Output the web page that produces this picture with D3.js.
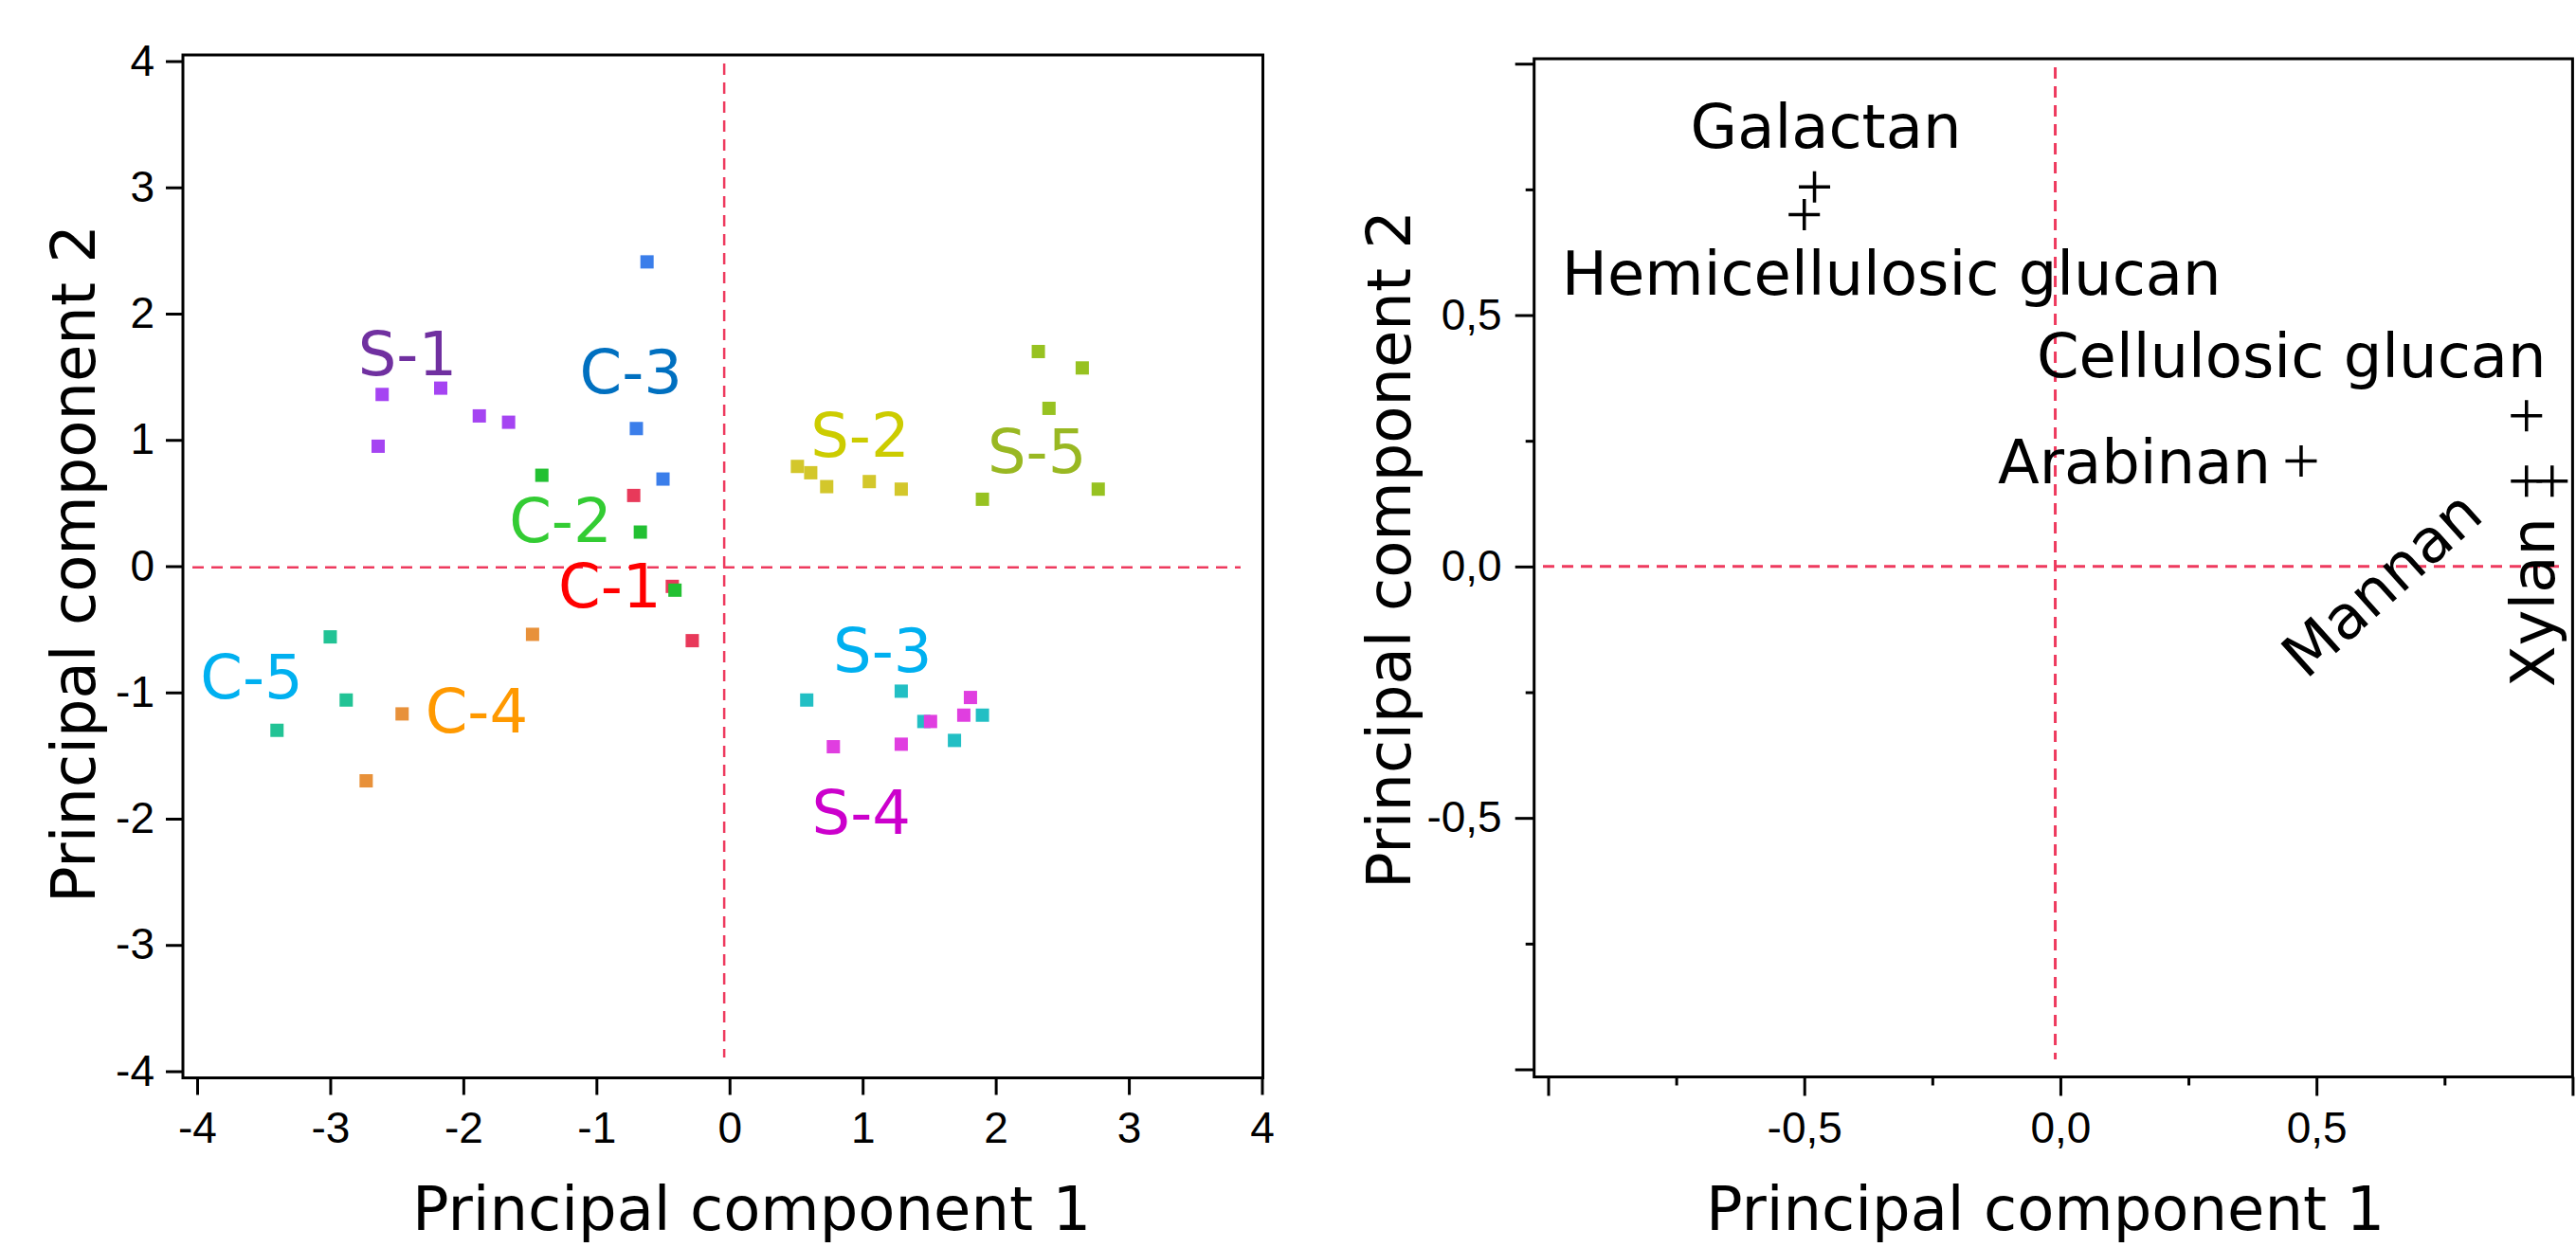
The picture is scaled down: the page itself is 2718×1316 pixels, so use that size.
<!DOCTYPE html>
<html lang="en">
<head>
<meta charset="UTF-8">
<title>PCA scores and loadings</title>
<script src="https://d3js.org/d3.v7.min.js"></script>
<style>
  body { margin: 0; background: #fff; }
  svg { display: block; }
  .tick text { font-family: "Liberation Sans", Arial, sans-serif; font-size: 46px; fill: #000; }
  .tick line { stroke: #000; stroke-width: 3; }
  .title, .lab { font-family: "DejaVu Sans", sans-serif; font-size: 64px; }
</style>
</head>
<body>
<svg width="2718" height="1316"></svg>
<script>
// ---- score plot data, one entry per sample ----
const scoreGroup = [
  "C-1","C-1","C-1",
  "C-2","C-2","C-2",
  "C-3","C-3","C-3",
  "C-4","C-4","C-4",
  "C-5","C-5","C-5",
  "S-1","S-1","S-1","S-1","S-1",
  "S-2","S-2","S-2","S-2","S-2",
  "S-3","S-3","S-3","S-3","S-3",
  "S-4","S-4","S-4","S-4","S-4",
  "S-5","S-5","S-5","S-5","S-5"
];
const scoreX = [
  -0.72, -0.43, -0.28,
  -1.41, -0.67, -0.41,
  -0.62, -0.70, -0.50,
  -1.48, -2.46, -2.73,
  -3.00, -2.88, -3.40,
  -2.61, -2.17, -1.88, -1.66, -2.64,
   0.51,  0.61,  0.73,  1.05,  1.29,
   0.58,  1.29,  1.46,  1.90,  1.69,
   0.78,  1.29,  1.51,  1.76,  1.81,
   2.32,  2.65,  2.40,  1.90,  2.77
];
const scoreY = [
   0.56, -0.16, -0.59,
   0.72,  0.27, -0.19,
   2.41,  1.09,  0.69,
  -0.54, -1.17, -1.70,
  -0.56, -1.06, -1.30,
   1.36,  1.41,  1.19,  1.14,  0.95,
   0.79,  0.74,  0.63,  0.67,  0.61,
  -1.06, -0.99, -1.23, -1.18, -1.38,
  -1.43, -1.41, -1.23, -1.18, -1.04,
   1.70,  1.57,  1.25,  0.53,  0.61
];
const scoreTicks = [-4, -3, -2, -1, 0, 1, 2, 3, 4];

// ---- loading plot data ----
const loadingName = ["Galactan", "Hemicellulosic glucan", "Cellulosic glucan", "Arabinan", "Mannan", "Xylan"];
const loadingX = [-0.48, -0.50, 0.91, 0.47, 0.91, 0.96];
const loadingY = [0.755, 0.70, 0.30, 0.21, 0.17, 0.17];
const loadingMajor = [-1, -0.5, 0, 0.5, 1];
const loadingMinor = [-0.75, -0.25, 0.25, 0.75];

// ---- styles / layout ----
const markerColor = {
  "C-1": "#e8395a", "C-2": "#22c032", "C-3": "#3b7eea", "C-4": "#e8913a", "C-5": "#22c395",
  "S-1": "#a544f2", "S-2": "#d3c72b", "S-3": "#22bfc4", "S-4": "#e03ee0", "S-5": "#97c221"
};
const labelColor = {
  "C-1": "#ff0000", "C-2": "#33cc33", "C-3": "#0070c0", "C-4": "#ff9900", "C-5": "#00b0f0",
  "S-1": "#7030a0", "S-2": "#cccc00", "S-3": "#00b0f0", "S-4": "#cc00cc", "S-5": "#99b822"
};
// label centre (baseline) in score space
const groupLabelPos = {
  "C-1": [-0.90, -0.33], "C-2": [-1.27, 0.19], "C-3": [-0.74, 1.37], "C-4": [-1.90, -1.32],
  "C-5": [-3.59, -1.05], "S-1": [-2.42, 1.51], "S-2": [0.98, 0.87], "S-3": [1.15, -0.84],
  "S-4": [0.99, -2.12], "S-5": [2.31, 0.74]
};
// loading label offsets in px from the marker
const loadingLabel = {
  "Galactan": { dx: 12, dy: -41, anchor: "middle", rot: 0 },
  "Hemicellulosic glucan": { dx: 92, dy: 85, anchor: "middle", rot: 0 },
  "Cellulosic glucan": { dx: -248, dy: -41, anchor: "middle", rot: 0 },
  "Arabinan": { dx: -32, dy: 24, anchor: "end", rot: 0 },
  "Mannan": { dx: -138, dy: 125, anchor: "middle", rot: -42 },
  "Xylan": { dx: 2, dy: 128, anchor: "middle", rot: -90 }
};
const refColor = "#ee3a5e";

const svg = d3.select("svg");

// =============== left: scores ===============
const xL = d3.scaleLinear().domain([-4, 4]).range([208, 1331.5]);
const yL = d3.scaleLinear().domain([-4, 4]).range([1130.5, 64.5]);
const boxL = { x0: 193, x1: 1332.5, y0: 58, y1: 1137.5 };

const gL = svg.append("g");

// reference lines
gL.append("line")
  .attr("x1", xL(-0.04)).attr("x2", xL(-0.04))
  .attr("y1", 67).attr("y2", 1116)
  .attr("stroke", refColor).attr("stroke-width", 2.5).attr("stroke-dasharray", "12 8");
gL.append("line")
  .attr("x1", 203).attr("x2", 1309)
  .attr("y1", yL(-0.01)).attr("y2", yL(-0.01))
  .attr("stroke", refColor).attr("stroke-width", 2.5).attr("stroke-dasharray", "12 8");

gL.append("rect")
  .attr("x", boxL.x0).attr("y", boxL.y0)
  .attr("width", boxL.x1 - boxL.x0).attr("height", boxL.y1 - boxL.y0)
  .attr("fill", "none").attr("stroke", "#000").attr("stroke-width", 3);

const axLy = gL.append("g").attr("transform", `translate(${boxL.x0},0)`)
  .call(d3.axisLeft(yL).tickValues(scoreTicks).tickSize(18).tickPadding(12).tickFormat(d => String(d)));
axLy.select(".domain").remove();
const axLx = gL.append("g").attr("transform", `translate(0,${boxL.y1})`)
  .call(d3.axisBottom(xL).tickValues(scoreTicks).tickSize(18).tickPadding(18).tickFormat(d => String(d)));
axLx.select(".domain").remove();

const sq = 14;
gL.selectAll("rect.pt")
  .data(d3.range(scoreX.length))
  .join("rect")
  .attr("class", "pt")
  .attr("x", i => xL(scoreX[i]) - sq / 2)
  .attr("y", i => yL(scoreY[i]) - sq / 2)
  .attr("width", sq).attr("height", sq)
  .attr("fill", i => markerColor[scoreGroup[i]]);

gL.selectAll("text.lab")
  .data(Object.keys(groupLabelPos))
  .join("text")
  .attr("class", "lab")
  .attr("x", g => xL(groupLabelPos[g][0]))
  .attr("y", g => yL(groupLabelPos[g][1]))
  .attr("text-anchor", "middle")
  .attr("fill", g => labelColor[g])
  .text(g => g);

gL.append("text").attr("class", "title")
  .attr("x", 793).attr("y", 1298).attr("text-anchor", "middle")
  .text("Principal component 1");
gL.append("text").attr("class", "title")
  .attr("transform", "translate(100,595) rotate(-90)").attr("text-anchor", "middle")
  .text("Principal component 2");

// =============== right: loadings ===============
const xR = d3.scaleLinear().domain([-1, 1]).range([1633.5, 2714.4]);
const yR = d3.scaleLinear().domain([-1, 1]).range([1128.5, 67.2]);
const boxR = { x0: 1618.7, x1: 2714.4, y0: 62, y1: 1136.5 };
const fmtR = d => Math.abs(d) === 1 ? "" : d.toFixed(1).replace(".", ",");

const gR = svg.append("g");

gR.append("line")
  .attr("x1", xR(-0.01)).attr("x2", xR(-0.01))
  .attr("y1", 71).attr("y2", 1118)
  .attr("stroke", refColor).attr("stroke-width", 3).attr("stroke-dasharray", "12 8");
gR.append("line")
  .attr("x1", 1628).attr("x2", 2702)
  .attr("y1", yR(0)).attr("y2", yR(0))
  .attr("stroke", refColor).attr("stroke-width", 3).attr("stroke-dasharray", "12 8");

gR.append("rect")
  .attr("x", boxR.x0).attr("y", boxR.y0)
  .attr("width", boxR.x1 - boxR.x0).attr("height", boxR.y1 - boxR.y0)
  .attr("fill", "none").attr("stroke", "#000").attr("stroke-width", 3);

[[loadingMajor, 20, fmtR], [loadingMinor, 9, () => ""]].forEach(([vals, size, fmt]) => {
  gR.append("g").attr("transform", `translate(${boxR.x0},0)`)
    .call(d3.axisLeft(yR).tickValues(vals).tickSize(size).tickPadding(14).tickFormat(fmt))
    .select(".domain").remove();
  gR.append("g").attr("transform", `translate(0,${boxR.y1})`)
    .call(d3.axisBottom(xR).tickValues(vals).tickSize(size).tickPadding(17).tickFormat(fmt))
    .select(".domain").remove();
});

gR.selectAll("path.plus")
  .data(d3.range(loadingX.length))
  .join("path")
  .attr("class", "plus")
  .attr("transform", i => `translate(${xR(loadingX[i])},${yR(loadingY[i])})`)
  .attr("d", "M-16.5,0H16.5M0,-16.5V16.5")
  .attr("stroke", "#000").attr("stroke-width", 3.5).attr("fill", "none");

gR.selectAll("text.lab")
  .data(d3.range(loadingName.length))
  .join("text")
  .attr("class", "lab")
  .attr("transform", i => {
    const l = loadingLabel[loadingName[i]];
    return `translate(${xR(loadingX[i]) + l.dx},${yR(loadingY[i]) + l.dy}) rotate(${l.rot})`;
  })
  .attr("text-anchor", i => loadingLabel[loadingName[i]].anchor)
  .attr("fill", "#000")
  .text(i => loadingName[i]);

gR.append("text").attr("class", "title")
  .attr("x", 2158).attr("y", 1298).attr("text-anchor", "middle")
  .text("Principal component 1");
gR.append("text").attr("class", "title")
  .attr("transform", "translate(1488,580) rotate(-90)").attr("text-anchor", "middle")
  .text("Principal component 2");
</script>
</body>
</html>
